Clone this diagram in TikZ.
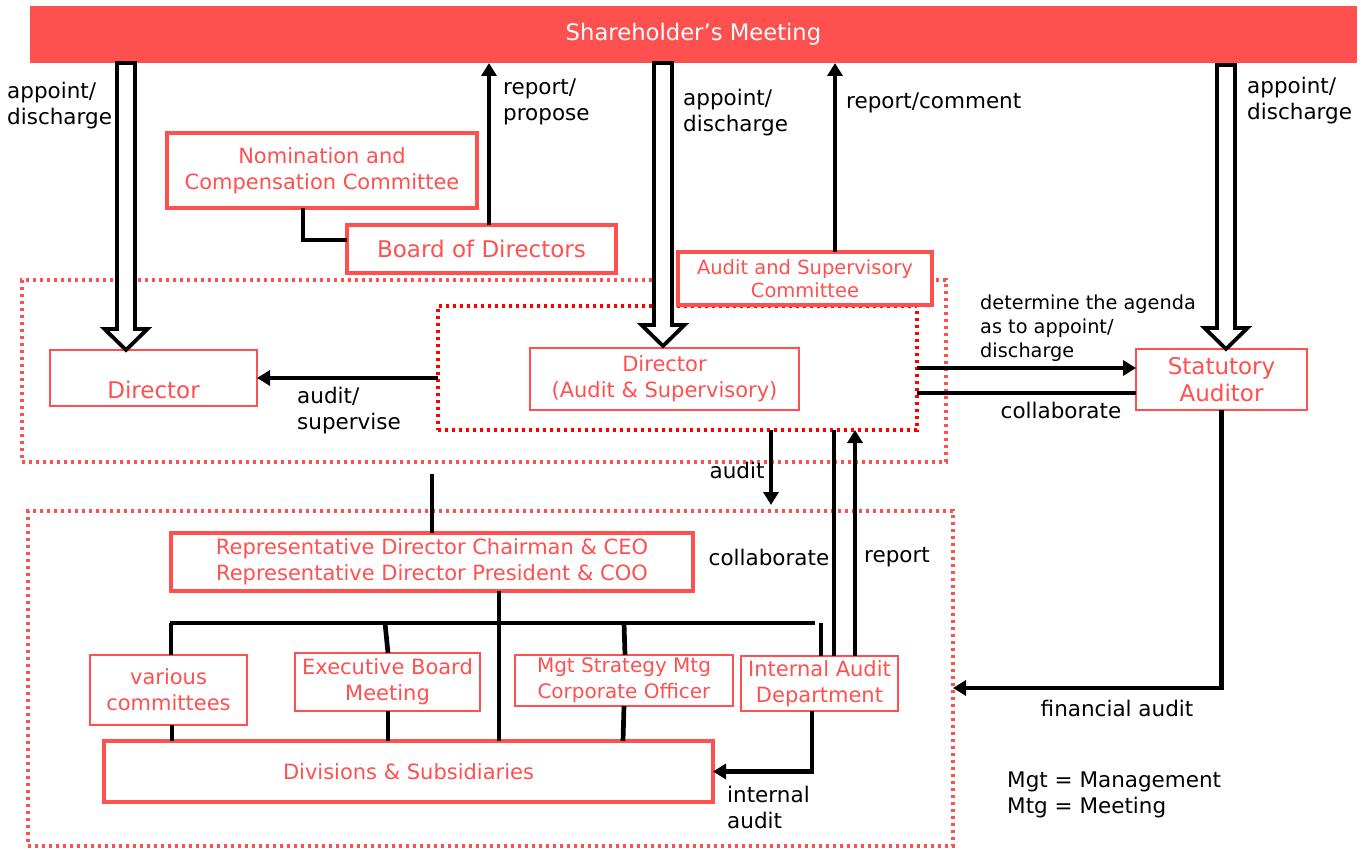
\documentclass[tikz,border=0pt]{standalone}
\usepackage{fontspec}
\setmainfont{DejaVu Sans}
\usetikzlibrary{arrows.meta,calc}
\definecolor{rd}{RGB}{255,80,80}
\definecolor{rdd}{RGB}{255,0,0}
% open block arrow pointing down, from #1 (top of stem) to #2 (tip)
\newcommand\hollowdown[2]{%
  \draw[hollow] ($(#1)+(-9,0)$) -- ($(#2)+(-9,-21)$) -- ($(#2)+(-21.5,-21)$)
    -- (#2) -- ($(#2)+(21.5,-21)$) -- ($(#2)+(9,-21)$) -- ($(#1)+(9,0)$) -- cycle;}
\begin{document}
\begin{tikzpicture}[x=1pt,y=-1pt,
  box/.style={draw=rd, fill=white, text=rd, align=center, anchor=north west,
    inner sep=0pt, outer sep=0pt, font=\fontsize{21}{26}\selectfont},
  heavybox/.style={box, line width=4.4pt},
  lightbox/.style={box, line width=2.2pt},
  lbl/.style={align=left, anchor=west, inner sep=0pt, font=\fontsize{21.5}{26}\selectfont},
  conn/.style={line width=4.7pt},
  arr/.style={conn, -{Triangle[length=13pt,width=15pt]}},
  region/.style={draw=rd, line width=3.4pt, dash pattern=on 3.4pt off 3.6pt,
    anchor=north west, inner sep=0pt, outer sep=0pt},
  hollow/.style={draw=black, fill=white, line width=3.8pt, line join=miter}]
\useasboundingbox (0,0) rectangle (1364,850);

% dotted groupings
\node[region, minimum width=924pt, minimum height=182pt] (grp1) at (22,280) {};
\node[region, draw=rdd, minimum width=479pt, minimum height=124pt] (inner) at (438,306) {};
\node[region, minimum width=925pt, minimum height=335pt] (grp2) at (28,511) {};

% top bar
\node[fill=rd, text=white, minimum width=1327pt, minimum height=57pt, anchor=north west,
  inner sep=0pt, outer sep=0pt, font=\fontsize{22.7}{26}\selectfont] (sm) at (30,6) {Shareholder’s Meeting};

% boxes
\node[heavybox, minimum width=310pt, minimum height=75pt] (nom) at (167,133) {Nomination and\\Compensation Committee};
\node[heavybox, minimum width=269pt, minimum height=48pt, font=\fontsize{23}{26}\selectfont] (board) at (347,225) {Board of Directors};
\node[heavybox, line width=3.8pt, minimum width=254pt, minimum height=53pt, font=\fontsize{19.5}{23}\selectfont] (asc) at (678,252) {Audit and Supervisory\\Committee};
\node[lightbox, minimum width=207pt, minimum height=56pt] (dir) at (50,350) {};
\node[text=rd, inner sep=0pt, font=\fontsize{23}{26}\selectfont] (dirtext) at ($(dir.center)+(0,12)$) {Director};
\node[lightbox, minimum width=269pt, minimum height=62pt] (das) at (530,348) {Director\\(Audit \& Supervisory)};
\node[lightbox, minimum width=171pt, minimum height=61pt, font=\fontsize{23}{27}\selectfont] (sa) at (1136,349) {Statutory\\Auditor};
\node[heavybox, minimum width=522pt, minimum height=58pt] (rep) at (171,533) {Representative Director Chairman \& CEO\\Representative Director President \& COO};
\node[lightbox, minimum width=157pt, minimum height=70pt] (var) at (90,655) {various\\committees};
\node[lightbox, minimum width=185pt, minimum height=58pt] (exec) at (295,653) {Executive Board\\Meeting};
\node[lightbox, minimum width=218pt, minimum height=51pt, font=\fontsize{20}{26}\selectfont] (mgt) at (515,655) {Mgt Strategy Mtg\\Corporate Officer};
\node[lightbox, minimum width=157pt, minimum height=55pt] (iad) at (741,656) {Internal Audit\\Department};
\node[heavybox, minimum width=609pt, minimum height=61pt] (div) at (104,741) {Divisions \& Subsidiaries};

% connectors around the board
\draw[conn] ($(nom.south west)+(136,0)$) |- ($(board.north west)+(0,15)$);
\draw[arr] ($(board.north west)+(142,0)$) coordinate (rp) -- (rp |- sm.south);
\draw[arr] ($(asc.north west)+(157,0)$) coordinate (rc) -- (rc |- sm.south);
\draw[arr] (inner.west |- dir.east) -- (dir.east);
\draw[arr] (inner.east) -- (inner.east -| sa.west);
\draw[conn] ($(inner.east)+(0,25)$) coordinate (cl) -- (cl -| sa.west);
\draw[arr] (sa.south) |- ($(grp2.east)+(0,9.5)$);
\draw[arr] ($(inner.south west)+(333,0)$) coordinate (au) -- ($(au |- grp2.north)+(0,-6)$);
\draw[conn] ($(iad.north west)+(93,0)$) coordinate (cb) -- (cb |- inner.south);
\draw[arr] ($(iad.north west)+(114,0)$) coordinate (rpt) -- (rpt |- inner.south);
\draw[conn] (rep.north) -- ($(rep.north |- grp1.south)+(0,12)$);

% execution tree
\coordinate (busL) at (170,623);
\coordinate (busR) at (815,623);
\draw[conn] (busL) -- (busR);
\draw[conn] ($(rep.south west)+(328,0)$) coordinate (rd1) -- (rd1 |- div.north);
\draw[conn] ($(var.north west)+(81,0)$) coordinate (v1) -- (v1 |- busL);
\draw[conn] ($(var.south west)+(82,0)$) coordinate (v2) -- (v2 |- div.north);
\draw[conn] ($(exec.north west)+(93,0)$) -- ($(exec.north west)+(90,-30)$);
\draw[conn] ($(exec.south west)+(93,0)$) coordinate (e2) -- (e2 |- div.north);
\draw[conn] ($(mgt.north west)+(110,0)$) coordinate (m1) -- ($(m1 |- busL)+(-1,0)$);
\draw[conn] ($(mgt.south west)+(109,0)$) coordinate (m2) -- ($(m2 |- div.north)+(-1,0)$);
\draw[conn] ($(iad.north west)+(80,0)$) coordinate (i1) -- (i1 |- busL);
\draw[arr] ($(iad.south west)+(71,0)$) |- (div.east);

% appoint/discharge block arrows
\coordinate (h1) at ($(dir.north west)+(76,0)$);
\coordinate (h1t) at (h1 |- sm.south);
\hollowdown{h1t}{h1}
\coordinate (h2) at ($(das.north west)+(133,-2)$);
\coordinate (h2t) at (h2 |- sm.south);
\hollowdown{h2t}{h2}
\coordinate (h3) at ($(sa.north west)+(90,0)$);
\coordinate (h3t) at ($(h3 |- sm.south)+(0,2)$);
\hollowdown{h3t}{h3}

% labels
\node[lbl] (l1) at (7,106) {appoint/\\discharge};
\node[lbl] (l2) at (503,102) {report/\\propose};
\node[lbl] (l3) at (683,113) {appoint/\\discharge};
\node[lbl] (l4) at (846,103) {report/comment};
\node[lbl] (l5) at (1247,101) {appoint/\\discharge};
\node[lbl] (l6) at (297,411) {audit/\\supervise};
\node[lbl, font=\fontsize{19.3}{24}\selectfont] (l7) at (980,328) {determine the agenda\\as to appoint/\\discharge};
\node[lbl, anchor=center] (l8) at (1061,410) {collaborate};
\node[lbl, anchor=center] (l9) at (737,470) {audit};
\node[lbl, anchor=center] (l10) at (769,557) {collaborate};
\node[lbl, anchor=center] (l11) at (897,557) {report};
\node[lbl, anchor=center] (l12) at (1117,708) {financial audit};
\node[lbl] (l13) at (727,807) {internal\\audit};
\node[lbl] (l14) at (1007,795) {Mgt = Management\\Mtg = Meeting};
\end{tikzpicture}
\end{document}
